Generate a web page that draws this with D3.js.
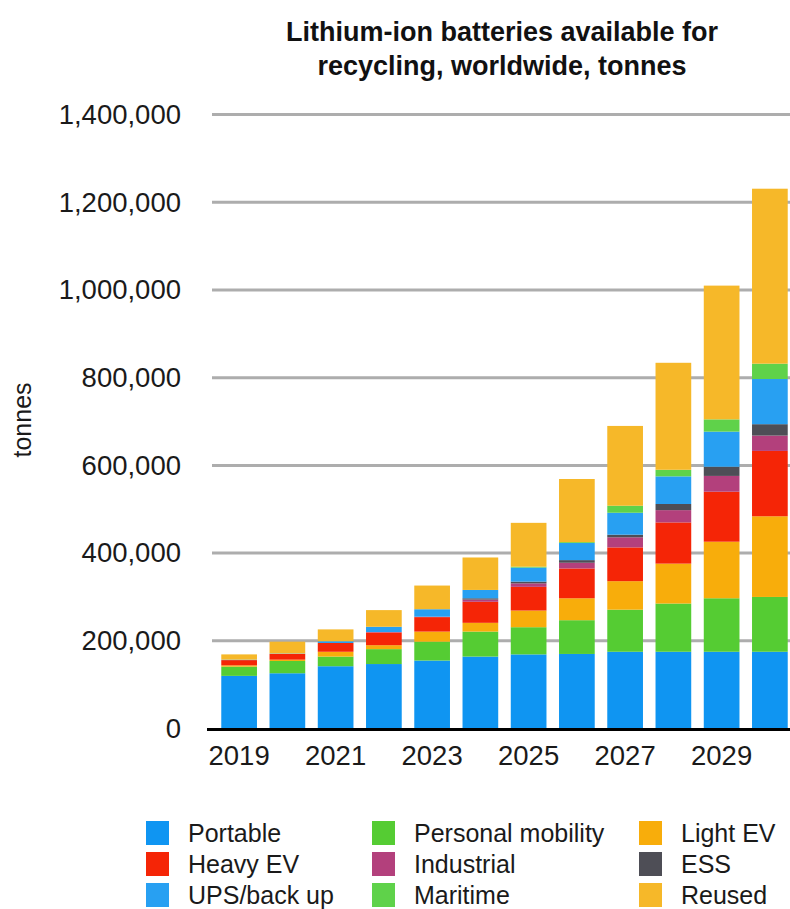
<!DOCTYPE html>
<html>
<head>
<meta charset="utf-8">
<script src="https://cdn.jsdelivr.net/npm/d3@7"></script>
<style>
  html, body { margin: 0; padding: 0; background: #ffffff; }
  svg { display: block; font-family: "Liberation Sans", Arial, Helvetica, sans-serif; }
</style>
</head>
<body>
<svg id="chart" width="790" height="909"></svg>
<script>
// Years on the x axis
const years = [2019, 2020, 2021, 2022, 2023, 2024, 2025, 2026, 2027, 2028, 2029, 2030];
const yearLabels = ["2019", "2021", "2023", "2025", "2027", "2029"];
const yTicks = [0, 200000, 400000, 600000, 800000, 1000000, 1200000, 1400000];

// Tonnes available for recycling, by source (stacked bottom to top)
const portable         = [120000, 126000, 142000, 147000, 155000, 164000, 169000, 170000, 175000, 175000, 175000, 175000];
const personalMobility = [ 21000,  28000,  22000,  34000,  43000,  57000,  62000,  77000,  96000, 110000, 122000, 125000];
const lightEV          = [  3000,   3000,  11000,   9000,  23000,  20000,  38000,  50000,  65000,  91000, 129000, 184000];
const heavyEV          = [ 12000,  13000,  20000,  29000,  33000,  48000,  54000,  68000,  77000,  94000, 114000, 149000];
const industrial       = [     0,      0,      0,   1000,   1000,   5000,   8000,  13000,  23000,  28000,  36000,  35000];
const ess              = [     0,      0,      0,      0,      0,   3000,   4000,   6000,   6000,  14000,  21000,  26000];
const upsBackup        = [  1000,   1000,   4000,  12000,  17000,  19000,  32000,  39000,  50000,  63000,  80000, 103000];
const maritime         = [     0,      0,      0,      0,      0,      0,   2000,   2000,  16000,  15000,  28000,  35000];
const reused           = [ 12000,  27000,  27000,  38000,  54000,  74000, 100000, 144000, 182000, 244000, 305000, 399000];

const seriesNames  = ["Portable", "Personal mobility", "Light EV", "Heavy EV", "Industrial", "ESS", "UPS/back up", "Maritime", "Reused"];
const seriesValues = [portable, personalMobility, lightEV, heavyEV, industrial, ess, upsBackup, maritime, reused];
const seriesColors = ["#0f95f2", "#55cc33", "#f8ad0b", "#f52506", "#b3407c", "#4e4e56", "#28a0f2", "#5fd24a", "#f6b829"];

// Build table rows for d3.stack
const keys = seriesNames;
const rows = years.map((yr, i) => {
  const row = { year: yr };
  keys.forEach((k, j) => { row[k] = seriesValues[j][i]; });
  return row;
});
const stacked = d3.stack().keys(keys)(rows);

const svg = d3.select("#chart");

const x = d3.scaleBand()
  .domain(years)
  .range([215, 794])
  .paddingInner(0.26)
  .paddingOuter(0.13);

const y = d3.scaleLinear()
  .domain([0, 1400000])
  .range([728.5, 114.6]);

const color = d3.scaleOrdinal().domain(keys).range(seriesColors);

// Title
const titleLines = ["Lithium-ion batteries available for", "recycling, worldwide, tonnes"];
svg.append("g")
  .selectAll("text")
  .data(titleLines)
  .join("text")
  .attr("x", 502)
  .attr("y", (d, i) => 41 + i * 34)
  .attr("text-anchor", "middle")
  .attr("font-weight", "bold")
  .attr("font-size", 27)
  .attr("fill", "#111")
  .text(d => d);

// Tick labels on the left
const yAxis = d3.axisLeft(y)
  .tickValues(yTicks)
  .tickSize(0)
  .tickPadding(0)
  .tickFormat(d3.format(","));

const yG = svg.append("g").attr("transform", "translate(181,0)").call(yAxis);
yG.select(".domain").remove();
yG.selectAll("text")
  .attr("font-size", 27.5)
  .attr("fill", "#1a1a1a")
  .attr("font-family", "'Liberation Sans', Arial, sans-serif");

// Horizontal gridlines
svg.append("g")
  .selectAll("line")
  .data(yTicks.filter(d => d > 0))
  .join("line")
  .attr("x1", 212).attr("x2", 790)
  .attr("y1", d => y(d)).attr("y2", d => y(d))
  .attr("stroke", "#adadad")
  .attr("stroke-width", 3);

// Y axis title
svg.append("text")
  .attr("transform", "translate(31,420) rotate(-90)")
  .attr("text-anchor", "middle")
  .attr("font-size", 25)
  .attr("fill", "#1a1a1a")
  .text("tonnes");

// Stacked bars
svg.append("g")
  .selectAll("g")
  .data(stacked)
  .join("g")
  .attr("fill", d => color(d.key))
  .selectAll("rect")
  .data(d => d)
  .join("rect")
  .attr("x", d => x(d.data.year))
  .attr("width", x.bandwidth())
  .attr("y", d => y(d[1]))
  .attr("height", d => Math.max(0, y(d[0]) - y(d[1])));

// Year labels
const xAxis = d3.axisBottom(x)
  .tickValues(years.filter(yr => yearLabels.includes(String(yr))))
  .tickSize(0)
  .tickPadding(17)
  .tickFormat(d => String(d));

const xG = svg.append("g").attr("transform", `translate(0,${y(0)})`).call(xAxis);
xG.select(".domain").remove();
xG.selectAll("text")
  .attr("font-size", 27.5)
  .attr("fill", "#1a1a1a")
  .attr("font-family", "'Liberation Sans', Arial, sans-serif");

// Baseline
svg.append("line")
  .attr("x1", 207).attr("x2", 790)
  .attr("y1", y(0) + 1).attr("y2", y(0) + 1)
  .attr("stroke", "#000")
  .attr("stroke-width", 3);

// Legend: three columns, three rows
const legendCols = [146, 372, 639];
const legendRows = [833, 864, 895];
const legend = svg.append("g");
keys.forEach((k, i) => {
  const cx = legendCols[i % 3];
  const cy = legendRows[Math.floor(i / 3)];
  legend.append("rect")
    .attr("x", cx).attr("y", cy - 12)
    .attr("width", 23).attr("height", 24)
    .attr("fill", color(k));
  legend.append("text")
    .attr("x", cx + 42).attr("y", cy + 9)
    .attr("font-size", 25)
    .attr("fill", "#1a1a1a")
    .text(k);
});
</script>
</body>
</html>
